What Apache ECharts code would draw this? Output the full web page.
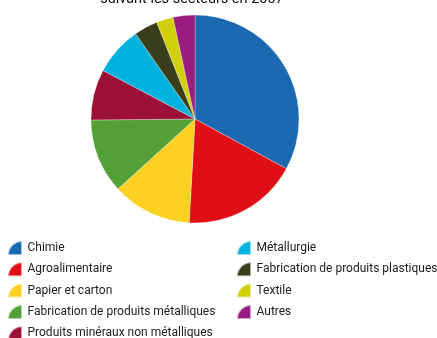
<!DOCTYPE html>
<html>
<head>
<meta charset="utf-8">
<script src="https://cdn.jsdelivr.net/npm/echarts@6/dist/echarts.min.js"></script>
<style>
  html, body { margin: 0; padding: 0; background: #fff; }
  #chart { width: 437px; height: 338px; }
</style>
</head>
<body>
<div id="chart"></div>
<script>
// Sectors and their shares (%)
const sectors = [
  'Chimie',
  'Agroalimentaire',
  'Papier et carton',
  'Fabrication de produits métalliques',
  'Produits minéraux non métalliques',
  'Métallurgie',
  'Fabrication de produits plastiques',
  'Textile',
  'Autres'
];
const shares = [33, 18, 12.4, 11.6, 7.9, 7.6, 3.7, 2.6, 3.4];
const colors = ['#1b69b0', '#e00f16', '#fdd022', '#54a036', '#9d1038',
                '#00b2dd', '#393f1b', '#d0cf0a', '#9a1e80'];
const titleText = 'suivant les secteurs en 2007';

const leftColumn = sectors.slice(0, 5);
const rightColumn = sectors.slice(5);

// quarter-disc legend marker
const quarterIcon = 'path://M100,100 L0,100 A100,100 0 0,1 100,0 Z';

const legendBase = {
  orient: 'vertical',
  top: 240,
  height: 140,
  padding: 0,
  itemWidth: 15,
  itemHeight: 14,
  itemGap: 5.3,
  icon: quarterIcon,
  textStyle: { fontFamily: 'Roboto, sans-serif', fontSize: 12, color: '#222' },
  selectedMode: false
};

const chart = echarts.init(document.getElementById('chart'), null, { renderer: 'canvas' });
chart.setOption({
  animation: false,
  color: colors,
  graphic: [{
    type: 'text',
    x: 192,
    y: 7,
    style: {
      text: titleText,
      align: 'center',
      verticalAlign: 'bottom',
      font: '14.5px Roboto, sans-serif',
      fill: '#111'
    }
  }],
  legend: [
    Object.assign({}, legendBase, { left: 7, data: leftColumn }),
    Object.assign({}, legendBase, { left: 236, data: rightColumn })
  ],
  series: [{
    type: 'pie',
    center: [195, 119],
    radius: 104,
    startAngle: 90,
    clockwise: true,
    label: { show: false },
    labelLine: { show: false },
    emphasis: { disabled: true },
    itemStyle: { borderColor: 'rgba(255,255,255,0.6)', borderWidth: 0.5 },
    data: sectors.map((name, i) => ({ name: name, value: shares[i] }))
  }]
});
</script>
</body>
</html>
